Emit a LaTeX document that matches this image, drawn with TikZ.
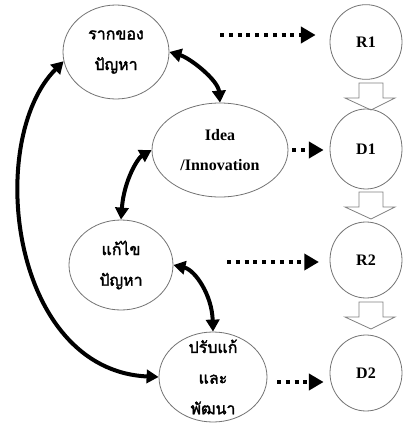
\documentclass[tikz,border=0pt]{standalone}
\usepackage{fontspec}
\setmainfont{Liberation Serif}
\newfontfamily\thaifont[Script=Thai, AutoFakeBold=2]{Loma}
\usetikzlibrary{arrows.meta,shapes.geometric}
\tikzset{
    bubble/.style={ellipse, draw=black!55, line width=0.6pt, inner sep=0pt, align=center},
    thai/.style={font=\thaifont\bfseries\fontsize{12}{23}\selectfont},
    latin/.style={font=\bfseries\fontsize{12}{22}\selectfont},
    link/.style={line width=3pt, {Triangle[length=9pt,width=10pt]}-{Triangle[length=9pt,width=10pt]}},
    dotarrow/.style={line width=3pt, dash pattern=on 3pt off 3.6pt, -{Triangle[length=11pt,width=12pt]}},
    hollow/.style={draw=black!50, line width=0.6pt}
}
\begin{document}
\begin{tikzpicture}[x=0.75pt, y=-0.75pt]
    \useasboundingbox (0,0) rectangle (403,425);
    \node[bubble, thai, minimum width=79.5pt, minimum height=70.5pt] (root) at (116,52) {รากของ\\ปัญหา};
    \node[bubble, latin, minimum width=102pt, minimum height=70.5pt] (idea) at (220,150) {Idea\\/Innovation};
    \node[bubble, thai, minimum width=78pt, minimum height=67.5pt] (fix) at (121,265) {แก้ไข\\ปัญหา};
    \node[bubble, thai, minimum width=81pt, minimum height=67.5pt, inner ysep=-12pt] (adjust) at (213,377) {ปรับแก้\\และ\\พัฒนา};
    \node[bubble, latin, minimum width=54pt, minimum height=56pt] (R1) at (366,42) {R1};
    \node[bubble, latin, minimum width=54pt, minimum height=60pt] (D1) at (366,149) {D1};
    \node[bubble, latin, minimum width=54pt, minimum height=57pt] (R2) at (366,260) {R2};
    \node[bubble, latin, minimum width=54pt, minimum height=57pt] (D2) at (366,373) {D2};
    \coordinate (r1a) at (220,35);
    \coordinate (d1a) at (292,150);
    \coordinate (r2a) at (227,262);
    \coordinate (d2a) at (277,382);
    \draw[link] (root.east) .. controls (190,58) and (218,80) .. (idea.north);
    \draw[link] (idea.west) .. controls (138,158) and (124,180) .. (fix.north);
    \draw[link] (fix.east) .. controls (195,270) and (212,295) .. (adjust.north);
    \draw[link] (adjust.west) .. controls (10,370) and (-15,140) .. (root.190);
    \draw[dotarrow, shorten >=10.5pt] (r1a) -- (r1a -| R1.west);
    \draw[dotarrow, shorten >=4.5pt] (d1a) -- (d1a -| D1.west);
    \draw[dotarrow, shorten >=8pt] (r2a) -- (r2a -| R2.west);
    \draw[dotarrow, shorten >=4.5pt] (d2a) -- (d2a -| D2.west);
    \foreach \yt in {83,192,302}
        \draw[hollow] (359,\yt) -- (383,\yt) -- (383,\yt+15) -- (395,\yt+15) -- (371,\yt+27) -- (345,\yt+15) -- (359,\yt+15) -- cycle;
\end{tikzpicture}
\end{document}
